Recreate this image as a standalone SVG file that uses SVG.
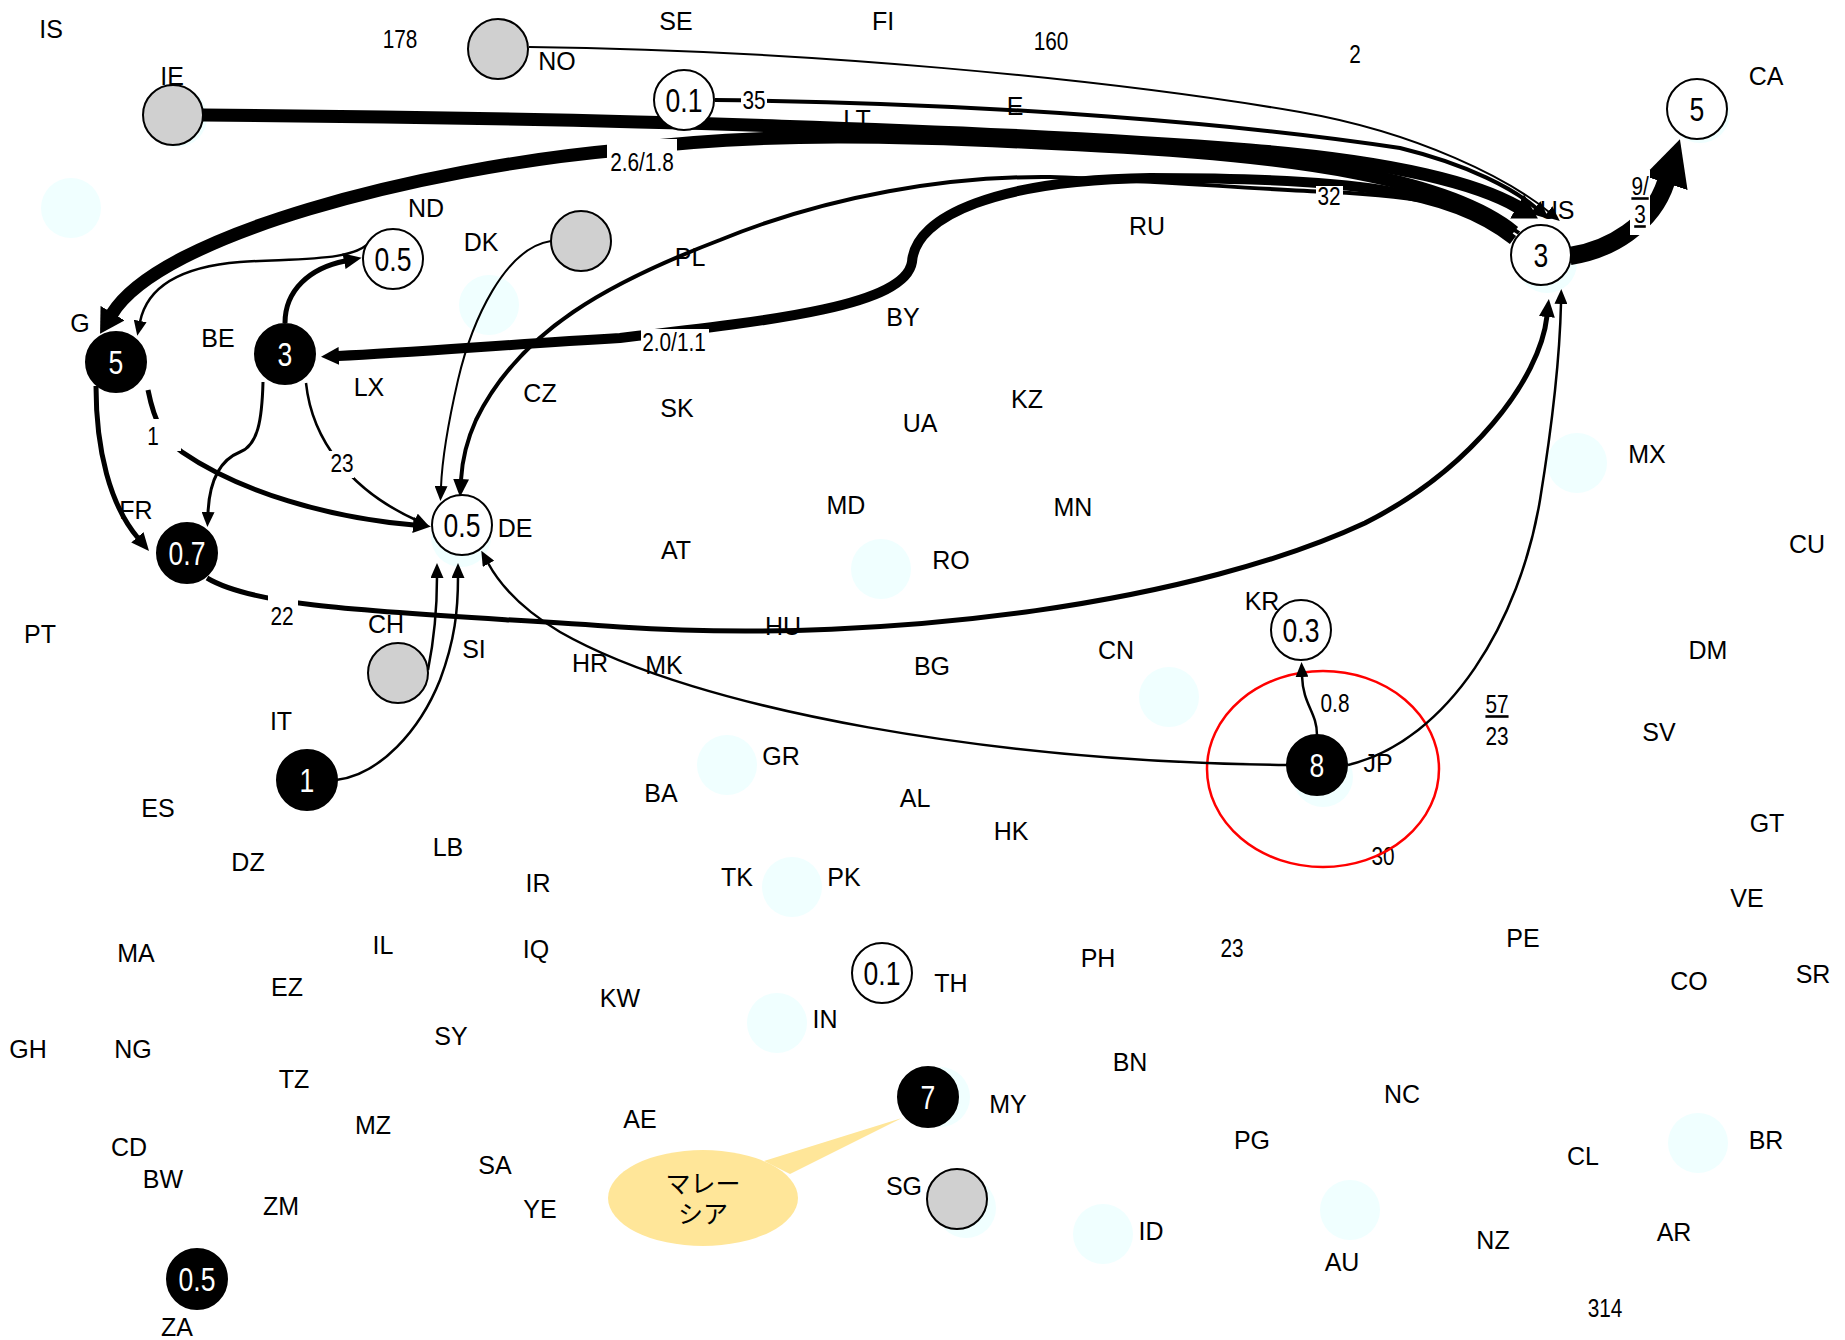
<svg xmlns="http://www.w3.org/2000/svg" width="1845" height="1340" viewBox="0 0 1845 1340">
<style>
text { font-family: "Liberation Sans", Arial, sans-serif; }
.lbl { font-size: 25px; text-anchor: middle; fill: #000; }
.num { font-size: 26px; text-anchor: middle; fill: #000; transform-box: fill-box; transform-origin: center; transform: scaleX(.8); }
.nv { font-size: 34px; text-anchor: middle; fill: #000; transform-box: fill-box; transform-origin: center; transform: scaleX(.78); }
.nv.w { fill: #fff; }
.u { text-decoration: underline; }
.jp { font-family: "Liberation Sans", "Noto Sans CJK JP", sans-serif; font-size: 25px; text-anchor: middle; fill: #000; }
.sh { fill: #f0ffff; }
.ng { fill: #d0d0d0; stroke: #000; stroke-width: 2; }
.nw { fill: #fff; stroke: #000; stroke-width: 2; }
.nb { fill: #000; stroke: #000; stroke-width: 2; }
.e { fill: none; stroke: #000; }
.w2 { stroke-width: 2; } .w25 { stroke-width: 2.5; } .w3 { stroke-width: 3; } .w4 { stroke-width: 4; }
.w5 { stroke-width: 5; } .w10 { stroke-width: 10; } .w13 { stroke-width: 13; } .w18 { stroke-width: 18; }
.bg { fill: #fff; }
.callout { fill: #ffe699; }
.ring { fill: none; stroke: #ff0000; stroke-width: 2.5; }
</style>
<defs>
  <marker id="ah-s" viewBox="0 -6.5 15 13" refX="1" refY="0" markerWidth="15" markerHeight="13" markerUnits="userSpaceOnUse" orient="auto"><path d="M0,-6.5 L15,0 L0,6.5z"/></marker>
  <marker id="ah-m" viewBox="0 -8 18 16" refX="1" refY="0" markerWidth="18" markerHeight="16" markerUnits="userSpaceOnUse" orient="auto"><path d="M0,-8 L18,0 L0,8z"/></marker>
  <marker id="ah-b" viewBox="0 -9 18 18" refX="1" refY="0" markerWidth="18" markerHeight="18" markerUnits="userSpaceOnUse" orient="auto"><path d="M0,-9 L18,0 L0,9z"/></marker>
  <marker id="ah-l" viewBox="0 -14 24 28" refX="1" refY="0" markerWidth="24" markerHeight="28" markerUnits="userSpaceOnUse" orient="auto"><path d="M0,-14 L24,0 L0,14z"/></marker>
  <marker id="ah-x" viewBox="0 -23 46 46" refX="1" refY="0" markerWidth="46" markerHeight="46" markerUnits="userSpaceOnUse" orient="auto"><path d="M0,-23 L46,0 L0,23z"/></marker>
</defs>
<rect width="1845" height="1340" fill="#fff"/>

<!-- location shadows -->
<g id="shadows">
  <circle class="sh" cx="71" cy="208" r="30"/>
  <circle class="sh" cx="489" cy="305" r="30"/>
  <circle class="sh" cx="881" cy="569" r="30"/>
  <circle class="sh" cx="1169" cy="697" r="30"/>
  <circle class="sh" cx="727" cy="765" r="30"/>
  <circle class="sh" cx="792" cy="887" r="30"/>
  <circle class="sh" cx="777" cy="1023" r="30"/>
  <circle class="sh" cx="1103" cy="1234" r="30"/>
  <circle class="sh" cx="1350" cy="1210" r="30"/>
  <circle class="sh" cx="1698" cy="1143" r="30"/>
  <circle class="sh" cx="1577" cy="463" r="30"/>
  <circle class="sh" cx="461" cy="537" r="30"/>
  <circle class="sh" cx="1547" cy="263" r="30"/>
  <circle class="sh" cx="1323" cy="777" r="30"/>
  <circle class="sh" cx="940" cy="1097" r="30"/>
  <circle class="sh" cx="966" cy="1208" r="30"/>
  <circle class="sh" cx="1700" cy="113" r="30"/>
  <circle class="sh" cx="177" cy="117" r="30"/>
</g>

<!-- country codes -->
<g id="labels">
  <text class="lbl" x="51" y="38">IS</text>
  <text class="lbl" x="172" y="85">IE</text>
  <text class="lbl" x="557" y="70">NO</text>
  <text class="lbl" x="676" y="30">SE</text>
  <text class="lbl" x="883" y="30">FI</text>
  <text class="lbl" x="426" y="217">ND</text>
  <text class="lbl" x="481" y="251">DK</text>
  <text class="lbl" x="80" y="332">G</text>
  <text class="lbl" x="218" y="347">BE</text>
  <text class="lbl" x="369" y="396">LX</text>
  <text class="lbl" x="540" y="402">CZ</text>
  <text class="lbl" x="690" y="266">PL</text>
  <text class="lbl" x="857" y="128">LT</text>
  <text class="lbl" x="1015" y="115">E</text>
  <text class="lbl" x="1147" y="235">RU</text>
  <text class="lbl" x="903" y="326">BY</text>
  <text class="lbl" x="677" y="417">SK</text>
  <text class="lbl" x="920" y="432">UA</text>
  <text class="lbl" x="1027" y="408">KZ</text>
  <text class="lbl" x="1557" y="219">US</text>
  <text class="lbl" x="1766" y="85">CA</text>
  <text class="lbl" x="1647" y="463">MX</text>
  <text class="lbl" x="1807" y="553">CU</text>
  <text class="lbl" x="846" y="514">MD</text>
  <text class="lbl" x="1073" y="516">MN</text>
  <text class="lbl" x="676" y="559">AT</text>
  <text class="lbl" x="951" y="569">RO</text>
  <text class="lbl" x="783" y="635">HU</text>
  <text class="lbl" x="136" y="519">FR</text>
  <text class="lbl" x="515" y="537">DE</text>
  <text class="lbl" x="40" y="643">PT</text>
  <text class="lbl" x="386" y="633">CH</text>
  <text class="lbl" x="474" y="658">SI</text>
  <text class="lbl" x="590" y="672">HR</text>
  <text class="lbl" x="664" y="674">MK</text>
  <text class="lbl" x="932" y="675">BG</text>
  <text class="lbl" x="1116" y="659">CN</text>
  <text class="lbl" x="1262" y="610">KR</text>
  <text class="lbl" x="1378" y="772">JP</text>
  <text class="lbl" x="1708" y="659">DM</text>
  <text class="lbl" x="1659" y="741">SV</text>
  <text class="lbl" x="281" y="730">IT</text>
  <text class="lbl" x="158" y="817">ES</text>
  <text class="lbl" x="781" y="765">GR</text>
  <text class="lbl" x="661" y="802">BA</text>
  <text class="lbl" x="915" y="807">AL</text>
  <text class="lbl" x="1011" y="840">HK</text>
  <text class="lbl" x="1767" y="832">GT</text>
  <text class="lbl" x="1747" y="907">VE</text>
  <text class="lbl" x="248" y="871">DZ</text>
  <text class="lbl" x="448" y="856">LB</text>
  <text class="lbl" x="538" y="892">IR</text>
  <text class="lbl" x="737" y="886">TK</text>
  <text class="lbl" x="844" y="886">PK</text>
  <text class="lbl" x="136" y="962">MA</text>
  <text class="lbl" x="383" y="954">IL</text>
  <text class="lbl" x="536" y="958">IQ</text>
  <text class="lbl" x="287" y="996">EZ</text>
  <text class="lbl" x="620" y="1007">KW</text>
  <text class="lbl" x="951" y="992">TH</text>
  <text class="lbl" x="1098" y="967">PH</text>
  <text class="lbl" x="1523" y="947">PE</text>
  <text class="lbl" x="1689" y="990">CO</text>
  <text class="lbl" x="1813" y="983">SR</text>
  <text class="lbl" x="28" y="1058">GH</text>
  <text class="lbl" x="133" y="1058">NG</text>
  <text class="lbl" x="451" y="1045">SY</text>
  <text class="lbl" x="825" y="1028">IN</text>
  <text class="lbl" x="294" y="1088">TZ</text>
  <text class="lbl" x="373" y="1134">MZ</text>
  <text class="lbl" x="640" y="1128">AE</text>
  <text class="lbl" x="1008" y="1113">MY</text>
  <text class="lbl" x="1130" y="1071">BN</text>
  <text class="lbl" x="1402" y="1103">NC</text>
  <text class="lbl" x="1252" y="1149">PG</text>
  <text class="lbl" x="1583" y="1165">CL</text>
  <text class="lbl" x="1766" y="1149">BR</text>
  <text class="lbl" x="129" y="1156">CD</text>
  <text class="lbl" x="163" y="1188">BW</text>
  <text class="lbl" x="495" y="1174">SA</text>
  <text class="lbl" x="281" y="1215">ZM</text>
  <text class="lbl" x="540" y="1218">YE</text>
  <text class="lbl" x="904" y="1195">SG</text>
  <text class="lbl" x="1151" y="1240">ID</text>
  <text class="lbl" x="1342" y="1271">AU</text>
  <text class="lbl" x="1493" y="1249">NZ</text>
  <text class="lbl" x="1674" y="1241">AR</text>
  <text class="lbl" x="177" y="1336">ZA</text>
  <!-- loose figures -->
  <text class="num" x="400" y="48">178</text>
  <text class="num" x="1051" y="50">160</text>
  <text class="num" x="1355" y="63">2</text>
  <text class="num u" x="1497" y="713">57</text>
  <text class="num" x="1497" y="745">23</text>
  <text class="num" x="1383" y="865">30</text>
  <text class="num" x="1232" y="957">23</text>
  <text class="num" x="1605" y="1317">314</text>
</g>

<!-- highlight ring -->
<ellipse id="highlight" class="ring" cx="1323" cy="769" rx="116" ry="98"/>

<!-- connectors -->
<g id="connectors">
  <path class="e w2" marker-end="url(#ah-s)" d="M529,47 C800,50 1100,78 1300,112 C1420,133 1510,180 1549,212"/>
  <path class="e w4" marker-end="url(#ah-m)" d="M715,100 C1000,103 1250,125 1400,148 C1470,165 1515,190 1536,208"/>
  <path class="e w13" marker-end="url(#ah-l)" d="M203,115 C600,118 1000,130 1250,150 C1400,162 1480,185 1518,207"/>
  <path class="e w13" marker-end="url(#ah-l)" d="M1514,232 C1450,180 1300,156 1100,146 C900,135 760,132 620,150 C420,168 160,235 112,314"/>
  <path class="e w10" marker-end="url(#ah-b)" d="M1513,240 C1450,190 1350,178 1150,178 C1000,180 915,215 912,262 C905,305 780,320 620,338 C500,345 420,352 338,356"/>
  <path class="e w4" marker-end="url(#ah-m)" d="M1519,233 C1480,205 1400,195 1329,192 C1250,189 1150,180 1050,177 C950,176 830,195 720,240 C610,282 520,330 476,420 C466,442 462,462 461,480"/>
  <path class="e w2" marker-end="url(#ah-s)" d="M551,241 C505,248 472,320 458,380 C447,428 442,462 441,487"/>
  <path class="e w25" marker-end="url(#ah-s)" d="M428,670 C434,640 437,605 437,577"/>
  <path class="e w25" marker-end="url(#ah-s)" d="M336,780 C380,775 420,730 440,680 C455,640 458,610 458,577"/>
  <path class="e w25" marker-end="url(#ah-s)" d="M1287,765 C1000,762 700,712 560,632 C520,608 500,585 488,563"/>
  <path class="e w25" marker-end="url(#ah-s)" d="M306,383 C312,440 350,490 416,520"/>
  <path class="e w5" marker-end="url(#ah-m)" d="M148,390 C155,425 165,440 182,452 C240,492 330,518 414,525"/>
  <path class="e w5" marker-end="url(#ah-m)" d="M96,386 C96,450 110,505 138,538"/>
  <path class="e w3" marker-end="url(#ah-s)" d="M263,382 C262,420 258,445 240,452 C215,462 209,490 208,513"/>
  <path class="e w5" marker-end="url(#ah-m)" d="M285,323 C285,290 310,268 345,261"/>
  <path class="e w25" marker-end="url(#ah-s)" d="M372,240 C355,262 300,258 240,262 C190,266 148,282 140,322"/>
  <path class="e w5" marker-end="url(#ah-m)" d="M207,578 C260,610 400,612 620,627 C900,645 1200,600 1365,523 C1470,470 1540,380 1547,316"/>
  <path class="e w25" marker-end="url(#ah-s)" d="M1348,765 C1450,740 1520,620 1540,500 C1553,420 1560,350 1561,303"/>
  <path class="e w25" marker-end="url(#ah-s)" d="M1317,735 C1317,712 1303,705 1302,676"/>
  <path class="e w18" marker-end="url(#ah-x)" d="M1570,256 C1610,250 1652,225 1666,182"/>
</g>

<!-- nodes -->
<g id="node-NO"><circle class="ng" cx="498" cy="49" r="30"/></g>
<g id="node-IE"><circle class="ng" cx="173" cy="115" r="30"/></g>
<g id="node-DK"><circle class="ng" cx="581" cy="241" r="30"/></g>
<g id="node-CH"><circle class="ng" cx="398" cy="673" r="30"/></g>
<g id="node-SG"><circle class="ng" cx="957" cy="1199" r="30"/></g>
<g id="node-LT"><circle class="nw" cx="684" cy="100" r="30"/><text class="nv" x="684" y="112">0.1</text></g>
<g id="node-ND"><circle class="nw" cx="393" cy="259" r="30"/><text class="nv" x="393" y="271">0.5</text></g>
<g id="node-US"><circle class="nw" cx="1541" cy="255" r="30"/><text class="nv" x="1541" y="267">3</text></g>
<g id="node-CA"><circle class="nw" cx="1697" cy="109" r="30"/><text class="nv" x="1697" y="121">5</text></g>
<g id="node-DE"><circle class="nw" cx="462" cy="525" r="30"/><text class="nv" x="462" y="537">0.5</text></g>
<g id="node-KR"><circle class="nw" cx="1301" cy="630" r="30"/><text class="nv" x="1301" y="642">0.3</text></g>
<g id="node-TH"><circle class="nw" cx="882" cy="973" r="30"/><text class="nv" x="882" y="985">0.1</text></g>
<g id="node-GB"><circle class="nb" cx="116" cy="362" r="30"/><text class="nv w" x="116" y="374">5</text></g>
<g id="node-BE"><circle class="nb" cx="285" cy="354" r="30"/><text class="nv w" x="285" y="366">3</text></g>
<g id="node-FR"><circle class="nb" cx="187" cy="553" r="30"/><text class="nv w" x="187" y="565">0.7</text></g>
<g id="node-IT"><circle class="nb" cx="307" cy="780" r="30"/><text class="nv w" x="307" y="792">1</text></g>
<g id="node-JP"><circle class="nb" cx="1317" cy="765" r="30"/><text class="nv w" x="1317" y="777">8</text></g>
<g id="node-MY"><circle class="nb" cx="928" cy="1097" r="30"/><text class="nv w" x="928" y="1109">7</text></g>
<g id="node-ZA"><circle class="nb" cx="197" cy="1279" r="30"/><text class="nv w" x="197" y="1291">0.5</text></g>

<!-- connector labels -->
<g id="edge-labels">
  <rect class="bg" x="741" y="89" width="26" height="22"/><text class="num" x="754" y="109">35</text>
  <rect class="bg" x="607" y="139" width="70" height="36"/><text class="num" x="642" y="171">2.6/1.8</text>
  <rect class="bg" x="641" y="329" width="68" height="26"/><text class="num" x="674" y="351">2.0/1.1</text>
  <rect class="bg" x="1316" y="186" width="27" height="22"/><text class="num" x="1329" y="205">32</text>
  <rect class="bg" x="268" y="592" width="30" height="36"/><text class="num" x="282" y="625">22</text>
  <rect class="bg" x="143" y="419" width="38" height="32"/><text class="num" x="153" y="445">1</text>
  <rect class="bg" x="329" y="451" width="25" height="27"/><text class="num" x="342" y="472">23</text>
  <rect class="bg" x="1630" y="170" width="20" height="65"/>
  <text class="num u" x="1640" y="195">9/</text>
  <text class="num u" x="1640" y="223">3</text>
  <text class="num" x="1335" y="712">0.8</text>
</g>

<!-- callout -->
<g id="callout-MY">
  <path class="callout" d="M764,1161 L902,1118 L790,1174 Z"/>
  <ellipse class="callout" cx="703" cy="1198" rx="95" ry="48"/>
  <text class="jp" x="703" y="1193">マレー</text>
  <text class="jp" x="703" y="1223">シア</text>
</g>
</svg>
